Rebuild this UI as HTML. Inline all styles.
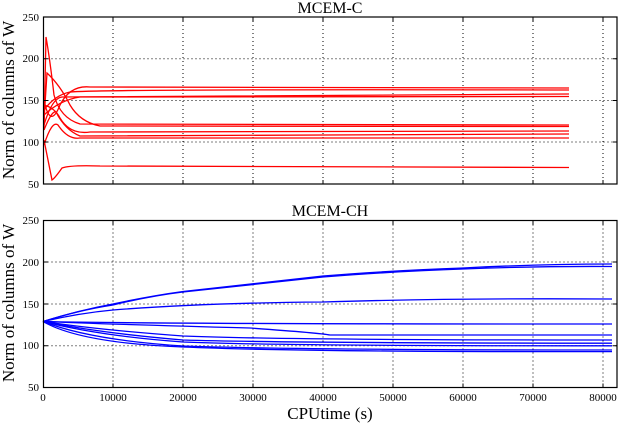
<!DOCTYPE html>
<html><head><style>
body{margin:0;background:#fff}
text{font-family:"Liberation Serif",serif;fill:#000}
</style></head><body>
<svg width="620" height="424" viewBox="0 0 620 424" xmlns="http://www.w3.org/2000/svg">
<g font-size="11" text-anchor="end">
<text x="39" y="21">250</text><text x="39" y="62">200</text><text x="39" y="104">150</text><text x="39" y="146">100</text><text x="39" y="188">50</text>
<text x="39" y="224">250</text><text x="39" y="266">200</text><text x="39" y="308">150</text><text x="39" y="349">100</text><text x="39" y="391">50</text>
</g>
<g font-size="11" text-anchor="middle">
<text x="43" y="401">0</text><text x="113" y="401">10000</text><text x="183" y="401">20000</text><text x="253" y="401">30000</text><text x="323" y="401">40000</text><text x="393" y="401">50000</text><text x="463" y="401">60000</text><text x="533" y="401">70000</text><text x="603" y="401">80000</text>
</g>
<text x="330" y="13" font-size="16" text-anchor="middle">MCEM-C</text>
<text x="330" y="216" font-size="16" text-anchor="middle">MCEM-CH</text>
<text x="330" y="419" font-size="17" text-anchor="middle">CPUtime (s)</text>
<text transform="translate(14,100) rotate(-90)" font-size="17" text-anchor="middle">Norm of columns of W</text>
<text transform="translate(14,303) rotate(-90)" font-size="17" text-anchor="middle">Norm of columns of W</text>
<g stroke="#000" stroke-width="1" stroke-dasharray="1,3">
<path d="M43.5,58.7H617M43.5,100.5H617M43.5,142H617M113,17V184M183,17V184M253,17V184M323,17V184M393,17V184M463,17V184M533,17V184M603,17V184"/>
<path d="M43.5,262H617M43.5,304H617M43.5,345.7H617M113,220.5V387.5M183,220.5V387.5M253,220.5V387.5M323,220.5V387.5M393,220.5V387.5M463,220.5V387.5M533,220.5V387.5M603,220.5V387.5"/>
</g>
<g fill="none" stroke="#f00" stroke-width="1.3">
<path d="M44,130 L46,37 Q50,60 54,95 Q60,118 80,124 L569,125"/>
<path d="M44,120 L47,73 Q60,85 70,105 Q80,122 100,126 L569,126.5"/>
<path d="M44,140 Q50,170 52,180 Q55,178 62,168 Q70,165 100,166 L569,167.5"/>
<path d="M44,100 Q50,130 60,105 Q70,85 90,87 L569,88"/>
<path d="M44,110 Q55,95 70,92 Q100,89 569,90"/>
<path d="M44,125 Q52,98 62,97 L569,94"/>
<path d="M44,115 Q60,100 80,97 L569,96.5"/>
<path d="M44,105 Q55,108 60,118 Q70,135 90,132 L569,131"/>
<path d="M44,130 Q52,110 56,112 Q65,130 80,136 L569,134"/>
<path d="M44,145 Q52,120 58,125 Q68,140 80,138 L569,138"/>
</g>
<g fill="none" stroke="#00f" stroke-width="1.3">
<path d="M43,321.5 Q80,310 113,304 Q150,296 183,291.5 Q260,283 323,276 Q400,270 463,268 Q540,264 612,264"/>
<path d="M43,321.5 Q80,310 113,305 Q150,296 183,292 Q260,284 323,277 Q400,271 463,269 Q540,266 612,266.5"/>
<path d="M43,321.5 Q80,313 113,310 Q200,303 323,302 Q450,298 612,299"/>
<path d="M43,321.5 Q150,324 612,324"/>
<path d="M43,321.5 Q100,324 250,328 Q320,333 330,335 L612,335"/>
<path d="M43,321.5 Q100,330 183,336 Q280,340 612,340"/>
<path d="M43,321.5 Q100,333 183,340 Q280,343 612,343.2"/>
<path d="M43,321.5 Q100,336 183,342 Q280,346 612,345.8"/>
<path d="M43,321.5 Q90,340 183,346 Q300,350 612,350"/>
<path d="M43,321.5 Q80,343 183,347 Q300,352 612,351.6"/>
</g>
<g stroke="#000" stroke-width="1">
<path d="M113,184v-4M183,184v-4M253,184v-4M323,184v-4M393,184v-4M463,184v-4M533,184v-4M603,184v-4M113,17v4M183,17v4M253,17v4M323,17v4M393,17v4M463,17v4M533,17v4M603,17v4M43.5,58.7h4M43.5,100.5h4M43.5,142h4M617,58.7h-4M617,100.5h-4M617,142h-4"/>
<path d="M113,387.5v-4M183,387.5v-4M253,387.5v-4M323,387.5v-4M393,387.5v-4M463,387.5v-4M533,387.5v-4M603,387.5v-4M113,220.5v4M183,220.5v4M253,220.5v4M323,220.5v4M393,220.5v4M463,220.5v4M533,220.5v4M603,220.5v4M43.5,262h4M43.5,304h4M43.5,345.7h4M617,262h-4M617,304h-4M617,345.7h-4"/>
</g>
<g fill="none" stroke="#000" stroke-width="1.2">
<rect x="43.5" y="17" width="573.5" height="167"/>
<rect x="43.5" y="220.5" width="573.5" height="167"/>
</g>
</svg>
</body></html>
